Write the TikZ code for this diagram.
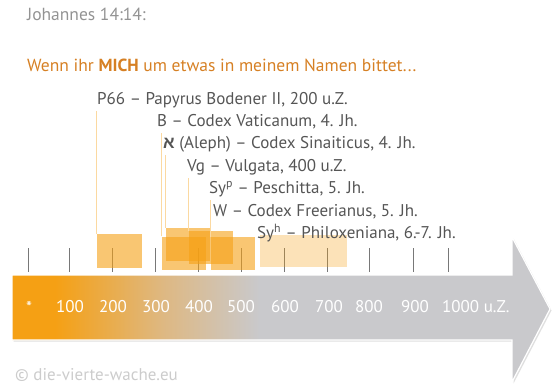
\documentclass[tikz,border=0pt]{standalone}
\usepackage{fontspec}
\setmainfont{PT Sans}
\newfontfamily\hebfont{Liberation Sans}
\usetikzlibrary{positioning}
\definecolor{tlorange}{RGB}{245,160,20}
\definecolor{tlgray}{RGB}{201,201,204}
\definecolor{tlmid}{RGB}{222,184,130}
\definecolor{txtgray}{RGB}{85,85,85}
\definecolor{headorange}{RGB}{214,128,36}
\definecolor{tickgray}{RGB}{120,120,120}
\pgfdeclarehorizontalshading{tlfade}{100bp}{color(0bp)=(tlorange); color(29bp)=(tlorange); color(39bp)=(tlmid); color(48bp)=(tlgray); color(100bp)=(tlgray)}

\begin{document}
\begin{tikzpicture}[x=1pt, y=-1pt,
  wit/.style={font=\fontsize{17}{17}\selectfont, text=txtgray, anchor=west, inner sep=0pt},
  span/.style={fill=tlorange, fill opacity=0.6, draw=none, inner sep=0pt,
               minimum width=44pt, minimum height=33pt},
  lead/.style={draw=tlorange!40, line width=0.8pt},
  tick/.style={draw=tickgray, line width=0.9pt},
  year/.style={font=\fontsize{17}{17}\selectfont, text=white, inner sep=0pt},
]
\useasboundingbox (0,0) rectangle (555,389);

% Heading
\node[font=\fontsize{17.5}{17.5}\selectfont, text=gray!85, anchor=west, inner sep=0pt] (ref) at (27,14) {Johannes 14:14:};
\node[font=\fontsize{17.5}{17.5}\selectfont, text=headorange, anchor=west, inner sep=0pt] (quote) at (27,65)
  {Wenn ihr \textbf{MICH} um etwas in meinem Namen bittet...};

% Arrow
\fill[gray!50, opacity=0.5] (13.5,276.5) -- (513.5,276.5) -- (513.5,238.5) -- (551.5,310.5) -- (513.5,383.5) -- (513.5,341.5) -- (13.5,341.5) -- cycle;
\shade[shading=tlfade, draw=white, line width=1.2pt]
  (12,275) -- (512,275) -- (512,237) -- (550,309) -- (512,382) -- (512,340) -- (12,340) -- cycle;

% Ticks
\foreach \x in {28,69,112,155,198,241,284,327,369,413,448}
  \draw[tick] (\x,248) -- (\x,272);

% Years
\foreach \x/\yr in {29/*,70/100,113/200,156/300,199/400,241/500,285/600,329/700,369/800,415/900}
  \node[year] at (\x,307) {\yr};
\node[year, anchor=west] (end) at (442,307) {1000 u.Z.};

% Spans
\node[span, minimum width=45pt, minimum height=34pt] (p66box) at (119.5,251) {};
\node[span] (vatbox) at (184,253) {};
\node[span] (sinbox) at (188,244.5) {};
\node[span] (vulbox) at (210.5,247.5) {};
\node[span] (pesbox) at (233,253.5) {};
\node[span, fill opacity=0.3, minimum width=87pt, minimum height=32pt] (phibox) at (303.5,251) {};

% Witnesses
\node[wit] (p66) at (97,100) {P66 – Papyrus Bodener II, 200 u.Z.};
\node[wit] (vat) at (157,122) {B – Codex Vaticanum, 4. Jh.};
\node[wit] (sin) at (163,144) {{\hebfont\bfseries א} (Aleph) – Codex Sinaiticus, 4. Jh.};
\node[wit] (vul) at (187,167) {Vg – Vulgata, 400 u.Z.};
\node[wit] (pes) at (209,189) {Sy\textsuperscript{p} – Peschitta, 5. Jh.};
\node[wit] (fre) at (213,212) {W – Codex Freerianus, 5. Jh.};
\node[wit] (phi) at (257,233) {Sy\textsuperscript{h} – Philoxeniana, 6.-7. Jh.};

% Leads
\draw[lead] (p66box.north west) -- ([yshift=-3pt]p66box.north west |- p66.south);
\draw[lead] (vatbox.north west) -- ([yshift=-3pt]vatbox.north west |- vat.south);
\draw[lead] (sinbox.north west) -- ([yshift=-3pt]sinbox.north west |- sin.south);
\draw[lead] (vulbox.north west) -- ([yshift=-3pt]vulbox.north west |- vul.south);
\draw[lead] (pesbox.north west) -- ([yshift=-3pt]pesbox.north west |- pes.south);

% Source
\node[font=\fontsize{17}{17}\selectfont, text=gray!40, anchor=west, inner sep=0pt] (src) at (15,375) {© die-vierte-wache.eu};
\end{tikzpicture}
\end{document}
